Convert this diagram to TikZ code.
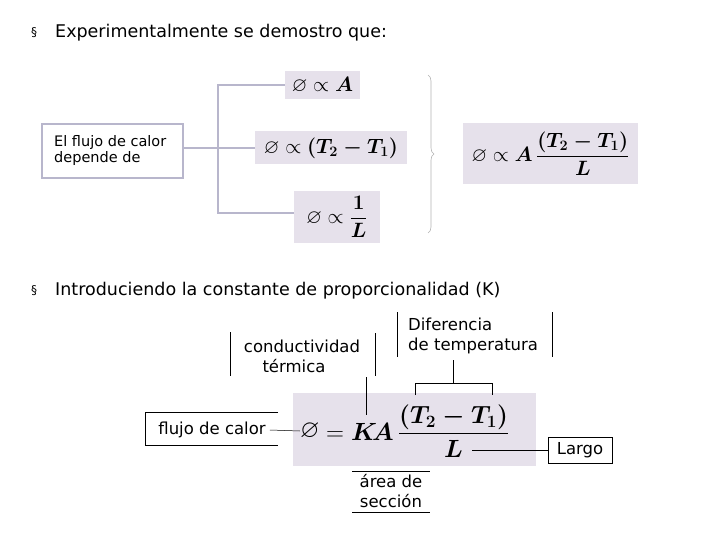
\documentclass[tikz,border=0pt]{standalone}
\usepackage{amsmath,amssymb}
\usepackage{fontspec}
\setmainfont{DejaVu Sans}
\usetikzlibrary{decorations.pathreplacing}
\definecolor{shade}{RGB}{230,225,235}
\definecolor{tree}{RGB}{184,182,204}
\tikzset{
  sh/.style={fill=shade,inner sep=0pt,font=\fontsize{20}{24}\selectfont},
  txt/.style={inner sep=0pt,font=\fontsize{16.5}{20}\selectfont,align=left},
  big/.style={inner sep=0pt,font=\fontsize{17.5}{20}\selectfont,anchor=west},
  tl/.style={draw=tree,line width=1.2pt},
  bl/.style={draw=black,line width=0.5pt}
}
\newcommand{\nul}{\varnothing}
\begin{document}
\begin{tikzpicture}[x=1pt,y=-1pt]
\useasboundingbox (0,0) rectangle (720,540);
% bullets
\node[big,font=\fontsize{12}{14}\selectfont] (b1) at (31,33) {§};
\node[big] (t1) at (55,33) {Experimentalmente se demostro que:};
\node[big,font=\fontsize{12}{14}\selectfont] (b2) at (31,291) {§};
\node[big] (t2) at (55,291) {Introduciendo la constante de proporcionalidad (K)};
% top part
\node[sh,minimum width=75,minimum height=28] (p1) at (322.5,85) {$\nul\propto\boldsymbol{A}$};
\node[sh,minimum width=152,minimum height=33] (p2) at (331,148) {$\nul\propto\boldsymbol{(T_2-T_1)}$};
\node[sh,minimum width=86,minimum height=52] (p3) at (337,217) {$\nul\propto\dfrac{\boldsymbol{1}}{\boldsymbol{L}}$};
\node[draw=tree,line width=1.2pt,minimum width=141,minimum height=54,inner sep=0pt] (left) at (112.5,151) {};
\node[txt,anchor=north west,font=\fontsize{14.5}{16.5}\selectfont] (lt) at (54,135) {El flujo de calor\\depende de};
\draw[tl] (left.east|-p2.west) -- (p2.west);
\draw[tl] (p1.west) -- (218,85) -- (218,213) -- (p3.west|-218,213);
\node[sh,minimum width=175,minimum height=61] (res) at (550.5,153.5) {$\nul\propto\boldsymbol{A}\,\dfrac{\boldsymbol{(T_2-T_1)}}{\boldsymbol{L}}$};
\coordinate (bt) at (428,75);
\coordinate (bb) at (428,233);
\draw[gray!60,line width=0.6pt,decorate,decoration={brace,amplitude=6pt}] (bt) -- (bb);
% bottom part
\node[sh,minimum width=243,minimum height=73] (eq) at (414.5,429.5) {};
\node[inner sep=0pt,anchor=west] (phi) at (300,431) {\fontsize{25}{30}\selectfont$\nul$};
\node[inner sep=0pt,anchor=west] (eqn) at (326,431) {\fontsize{25}{30}\selectfont$=\boldsymbol{K\!A}\,\dfrac{\boldsymbol{(T_2-T_1)}}{\boldsymbol{L}}$};
\coordinate (kk) at (366,415);
\coordinate (lL) at (472,450);
% flujo de calor
\node[txt] (fc) at (212,430) {flujo de calor};
\draw[bl] (278,412) -- (145,412) -- (145,445) -- (278,445);
\draw[bl] (fc.east)++(4,0) -- (phi.west);
% Largo
\node[draw,inner sep=0pt,minimum width=64,minimum height=26,txt] (lg) at (580,450) {Largo};
\draw[bl] (lL) -- (lg.west);
% area
\node[txt,align=center] (ar) at (391,491) {área de\\sección};
\draw[bl] (352,471) -- (430,471);
\draw[bl] (352,512) -- (430,512);
% conductividad
\node[txt,align=center] (ct) at (302,356) {conductividad\\\hspace*{-16pt}térmica};
\draw[bl] (230,332) -- (230,376);
\draw[bl] (375,333) -- (375,376);
\draw[bl] (366,377) -- (kk);
% diferencia
\node[txt,anchor=north west] (dt) at (408,318) {Diferencia\\de temperatura};
\draw[bl] (397,312) -- (397,357);
\draw[bl] (552,312) -- (552,357);
\draw[bl] (453,360) -- (453,383);
\draw[bl] (415,395) -- (415,383) -- (492,383) -- (492,395);
\end{tikzpicture}
\end{document}
